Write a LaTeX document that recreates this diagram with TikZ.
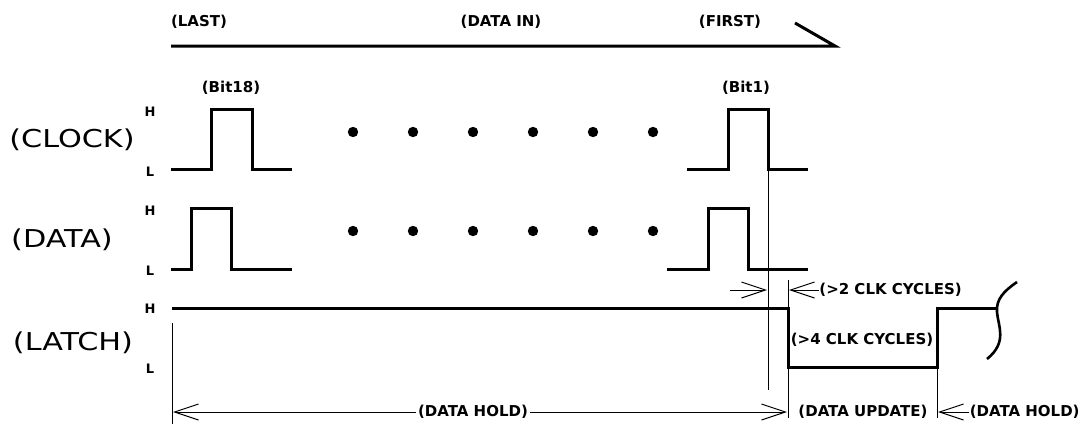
\documentclass[tikz,border=0pt]{standalone}
\usepackage{fontspec}
\setmainfont{DejaVu Sans}
\usetikzlibrary{arrows.meta}
\newcommand{\widetxt}[1]{\scalebox{1.23}[1]{#1}}
\tikzset{
  sig/.style={line width=1.5pt, line join=miter},
  thin/.style={line width=0.5pt},
  barb/.style={thin, -{Straight Barb[length=12pt,width=8pt]}},
  bigl/.style={inner sep=0pt, font=\fontsize{12.3}{14}\selectfont},
  smallb/.style={inner sep=1pt, font=\bfseries\fontsize{7.5}{9}\selectfont},
  hl/.style={inner sep=0pt, font=\bfseries\fontsize{6.5}{8}\selectfont},
  dot/.style={fill=black}
}
\begin{document}
\begin{tikzpicture}[x=0.5pt,y=-0.5pt]
\useasboundingbox (0,0) rectangle (1088,424);
% top data-in line
\node[smallb] (last) at (199,22) {(LAST)};
\node[smallb] (datain) at (501,22) {(DATA IN)};
\node[smallb] (first) at (730,22) {(FIRST)};
\coordinate (tl) at (171,46);
\coordinate (tr) at (835,46);
\coordinate (tt) at (795,23);
\draw[sig] (tl) -- (tr) -- (tt);
% row labels
\node[bigl] (clk) at (72,140) {\widetxt{(CLOCK)}};
\node[bigl] (dat) at (62,240) {\widetxt{(DATA)}};
\node[bigl] (lat) at (73,343) {\widetxt{(LATCH)}};
\node[hl] (ch) at (150,112) {H};
\node[hl] (cl) at (150,172) {L};
\node[hl] (dh) at (150,211) {H};
\node[hl] (dl) at (150,271) {L};
\node[hl] (lh) at (150,309) {H};
\node[hl] (ll) at (150,369) {L};
% bit labels
\node[smallb] (b18) at (231,88) {(Bit18)};
\node[smallb] (b1) at (746,88) {(Bit1)};
% clock
\draw[sig] (171,169) -| (211,109) -| (252,169) -- (292,169);
\draw[sig] (687,169) -| (728,109) -| (768,169) -- (808,169);
% data
\draw[sig] (171,269) -| (191,208) -| (231,269) -- (292,269);
\draw[sig] (667,269) -| (708,208) -| (748,269) -- (808,269);
% dots
\foreach \xx in {353,413,473,533,593,653}{
  \fill (\xx,132) circle[radius=2.6pt];
  \fill (\xx,231) circle[radius=2.6pt];
}
% latch
\draw[sig] (172,308) -| (788,367) -| (937,308) -- (997,308);
\draw[line width=1.3pt] (1017,282) .. controls (1004,291) and (996,299) .. (997,312)
   .. controls (998,326) and (1008,342) .. (987,359);
% thin marker lines
\coordinate (v1t) at (768,170);
\coordinate (v1b) at (768,390);
\coordinate (v2t) at (788,280);
\coordinate (v2b) at (788,418);
\coordinate (v3t) at (937,367);
\coordinate (v3b) at (937,418);
\coordinate (v4t) at (172,323);
\coordinate (v4b) at (172,424);
\draw[thin] (v1t) -- (v1b);
\draw[thin] (v2t) -- (v2b);
\draw[thin] (v3t) -- (v3b);
\draw[thin] (v4t) -- (v4b);
% >2 clk cycles
\coordinate (a2s) at (730,290);
\coordinate (a2e) at (767,290);
\draw[barb] (a2s) -- (a2e);
\node[smallb, anchor=west, inner sep=0pt] (c2) at (819,290) {(>2 CLK CYCLES)};
\coordinate (a3e) at (789,290);
\draw[barb] (c2.west) -- (a3e);
\node[smallb] (c4) at (862,340) {(>4 CLK CYCLES)};
% bottom
\node[smallb] (hold1) at (473,412) {(DATA HOLD)};
\coordinate (h1l) at (173,412);
\coordinate (h1r) at (787,412);
\draw[barb] (hold1.west) -- (h1l);
\draw[barb] (hold1.east) -- (h1r);
\node[smallb] (upd) at (863,412) {(DATA UPDATE)};
\node[smallb, anchor=east, inner sep=0pt] (hold2) at (1080,412) {(DATA HOLD)};
\coordinate (h2e) at (938,412);
\draw[barb] (hold2.west) -- (h2e);
\end{tikzpicture}
\end{document}
